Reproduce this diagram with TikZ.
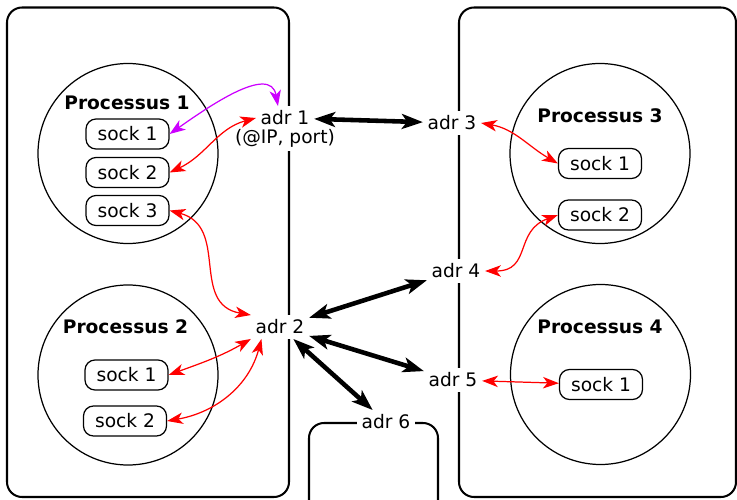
\documentclass[tikz,border=0pt]{standalone}
\usepackage{fontspec}
\setmainfont{DejaVu Sans}
\usetikzlibrary{arrows.meta}
\definecolor{loc_red}{HTML}{FF0000}
\definecolor{loc_violet}{HTML}{CC00FF}

\tikzset{
  machine/.style={line width=1.15pt, rounded corners=0.3cm},
  proc/.style={line width=0.7pt},
  socket/.style={draw, line width=0.7pt, rounded corners=0.2cm, minimum width=1.66cm, minimum height=0.6cm, inner sep=0pt},
  addr/.style={fill=white, inner sep=2.5pt},
  netlink/.style={line width=2.6pt, {Stealth[length=12pt,width=8.5pt,inset=3pt]}-{Stealth[length=12pt,width=8.5pt,inset=3pt]}},
  loclink/.style={loc_red, line width=0.7pt, {Stealth[length=9pt,width=6.5pt,inset=2.5pt]}-{Stealth[length=9pt,width=6.5pt,inset=2.5pt]}},
}

\begin{document}
\begin{tikzpicture}[font=\fontsize{10.6}{12.7}\selectfont]
            \useasboundingbox (0,0) rectangle (14.74,9.98);

            % machines
            \draw[machine] (0.14,0.04) rectangle (5.78,9.83);
            \draw[machine] (9.18,0.04) rectangle (14.72,9.83);
            \draw[machine] (6.18,-0.4) rectangle (8.76,1.52);

            % processes
            \draw[proc] (2.56,6.91) circle (1.8);
            \draw[proc] (2.56,2.48) circle (1.8);
            \draw[proc] (12.0,6.91) circle (1.8);
            \draw[proc] (12.01,2.49) circle (1.8);

            \node (p1) at (2.54,7.92) {\textbf{Processus 1}};
            \node (p2) at (2.51,3.44) {\textbf{Processus 2}};
            \node (p3) at (12.0,7.66) {\textbf{Processus 3}};
            \node (p4) at (12.0,3.44) {\textbf{Processus 4}};

            \node[socket] (s11) at (2.55,7.30) {sock 1};
            \node[socket] (s12) at (2.55,6.53) {sock 2};
            \node[socket] (s13) at (2.55,5.77) {sock 3};
            \node[socket] (s21) at (2.53,2.48) {sock 1};
            \node[socket] (s22) at (2.50,1.56) {sock 2};
            \node[socket] (s31) at (12.0,6.71) {sock 1};
            \node[socket] (s32) at (12.0,5.68) {sock 2};
            \node[socket] (s41) at (12.02,2.29) {sock 1};

            % addresses
            \node[addr] (adr1) at (5.7,7.62) {adr 1};
            \node[addr] (ipport) at (5.7,7.22) {(@IP, port)};
            \node[addr] (adr2) at (5.6,3.44) {adr 2};
            \node[addr] (adr3) at (9.04,7.52) {adr 3};
            \node[addr] (adr4) at (9.12,4.56) {adr 4};
            \node[addr] (adr5) at (9.06,2.38) {adr 5};
            \node[addr] (adr6) at (7.72,1.54) {adr 6};

            \draw[netlink] (adr1) -- (adr3);
            \draw[netlink] (adr2) -- (adr4);
            \draw[netlink] (adr2) -- (adr5);
            \draw[netlink] (adr2) -- (adr6);

            \draw[loclink, loc_violet] (s11.east) to[out=35, in=100] ([xshift=-4pt]adr1.north);
            \draw[loclink] (s12.east) to[out=25, in=195] (adr1.west);
            \draw[loclink] (s13.east) to[out=-15, in=170, looseness=1.2] (adr2.north west);
            \draw[loclink] (s21.east) to[out=20, in=210] (adr2.south west);
            \draw[loclink] (s22.east) to[out=10, in=-105] ([xshift=6pt]adr2.south west);
            \draw[loclink] (adr3.east) to[out=-10, in=150] (s31.west);
            \draw[loclink] (adr4.east) to[out=0, in=200, looseness=1.3] (s32.west);
            \draw[loclink] (adr5) -- (s41);

        \end{tikzpicture}
\end{document}
